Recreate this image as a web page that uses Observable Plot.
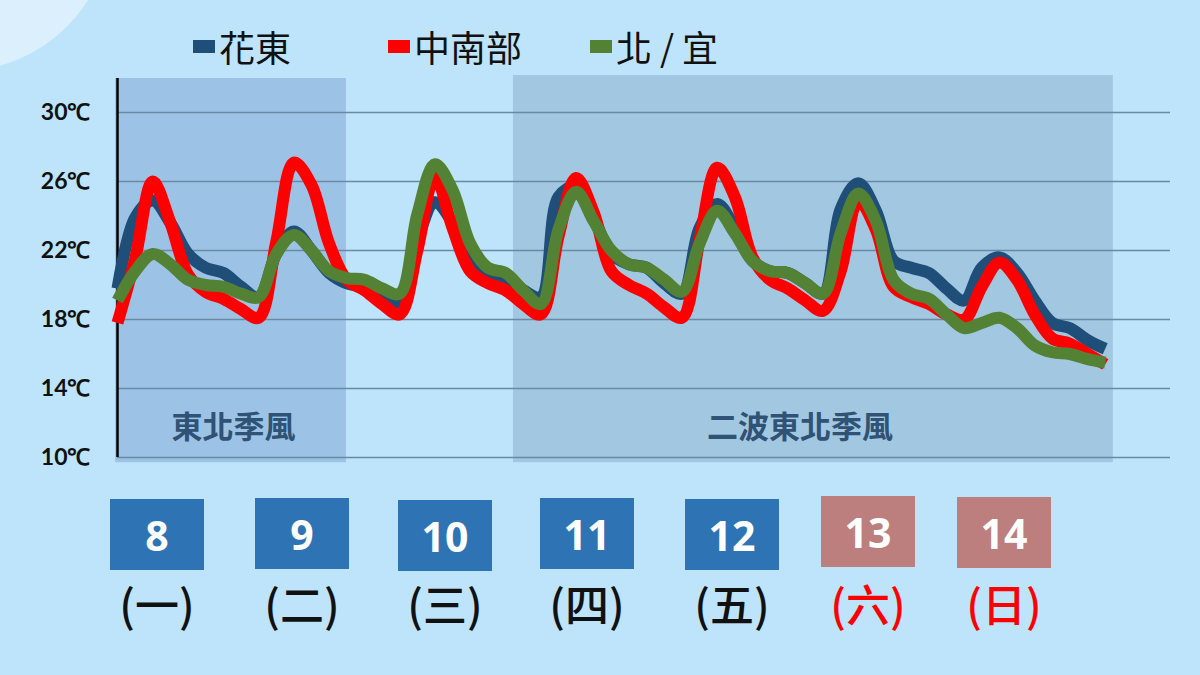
<!DOCTYPE html>
<html><head><meta charset="utf-8">
<script src="https://cdn.jsdelivr.net/npm/d3@7"></script>
<script src="https://cdn.jsdelivr.net/npm/@observablehq/plot@0.6"></script>
<style>
html,body{margin:0;padding:0;}
body{width:1200px;height:675px;overflow:hidden;background:#bde4fb;position:relative;font-family:"Noto Sans CJK TC",sans-serif;}
.corner{position:absolute;left:-191px;top:-231px;width:302px;height:302px;border-radius:50%;background:#dbeffd;}
#legend{position:relative;height:70px;}
.lg{position:absolute;top:21px;height:50px;font-size:36px;color:#111;display:flex;align-items:center;}
.sw{display:inline-block;width:22px;height:13px;margin-right:4px;}
#chart{position:relative;height:410px;}
#chart svg{overflow:visible;}
#days{position:relative;height:195px;}
.box{position:absolute;width:94px;height:71px;color:#fff;font:bold 41px "Open Sans",sans-serif;display:flex;align-items:center;justify-content:center;}
.wd{position:absolute;width:160px;text-align:center;font-size:44px;font-weight:500;line-height:50px;}
</style></head>
<body>
<div class="corner"></div>
<div id="legend"></div>
<div id="chart"></div>
<div id="days"></div>
<script>
// ---- data ----
const seriesNames = ["花東", "中南部", "北/宜"];
const steps = [0,1,2,3,4,5,6,7,8,9,10,11,12,13,14,15,16,17,18,19,20,21,22,23,24,25,26,27,28,29,30,31,32,33,34,35,36,37,38,39,40,41,42,43,44,45,46,47,48,49,50,51,52,53,54,55,56];
const hualien = [19.8,23.9,24.9,23.6,21.8,21.0,20.7,19.9,19.3,21.8,23.1,22.0,20.7,20.1,19.9,19.5,19.0,22.6,24.8,23.6,21.4,20.7,20.3,19.7,19.3,25.1,25.7,23.9,21.8,21.2,21.0,20.1,19.5,23.3,24.7,23.3,21.4,20.8,20.7,20.1,19.5,24.4,25.9,24.3,21.4,21.0,20.7,19.8,19.1,21.0,21.6,20.7,19.1,17.8,17.5,16.8,16.3];
const south   = [17.8,21.5,26.0,23.6,20.6,19.6,19.2,18.6,18.1,22.5,27.1,25.8,22.4,20.3,19.7,18.9,18.3,22.0,26.3,23.3,20.8,20.1,19.7,18.9,18.3,22.8,26.2,24.2,20.8,20.0,19.5,18.7,18.1,22.6,26.8,25.1,21.6,20.3,19.8,19.1,18.5,20.8,24.9,23.2,19.9,19.3,18.9,18.3,18.0,19.9,21.3,20.3,18.3,16.9,16.6,16.0,15.4];
const north   = [19.1,20.8,21.8,21.2,20.3,20.0,19.9,19.5,19.3,21.8,22.9,22.0,20.8,20.4,20.3,19.8,19.5,24.1,27.0,25.5,22.4,21.0,20.7,19.7,18.9,23.2,25.4,23.7,22.0,21.2,21.0,20.3,19.6,22.4,24.3,23.0,21.4,20.8,20.7,20.1,19.5,23.0,25.3,23.7,20.3,19.5,19.2,18.3,17.5,17.8,18.1,17.5,16.5,16.1,16.0,15.7,15.5];
const yTicks = [10, 14, 18, 22, 26, 30];
const regionLabels = ["東北季風", "二波東北季風"];
const regionStart = [-0.11, 22.45];
const regionEnd = [12.98, 56.46];
const regionTop = [31.97, 32.14];
const regionBottom = [9.7, 9.7];
const days = ["8", "9", "10", "11", "12", "13", "14"];
const weekdays = ["(一)", "(二)", "(三)", "(四)", "(五)", "(六)", "(日)"];
const weekend = [false, false, false, false, false, true, true];

// ---- styles / layout ----
const colors = ["#1f4e79", "#ff0000", "#548235"];
const regionFills = ["#9cc3e5", "#a2c7e1"];
const legendLeft = [193, 388, 590];
const legendSpacing = [0, 0, 8];
const boxLeft = [110, 255, 398, 540, 685, 821, 957];
const boxTop = [19, 18, 20, 18, 19, 16, 17];

// legend
const lg = document.getElementById("legend");
seriesNames.forEach((n, i) => {
  const d = document.createElement("div");
  d.className = "lg";
  d.style.left = legendLeft[i] + "px";
  d.innerHTML = `<span class="sw" style="background:${colors[i]}"></span><span style="letter-spacing:${legendSpacing[i]}px">${n}</span>`;
  lg.appendChild(d);
});

// chart
const rows = steps.map((s, i) => ({s, a: hualien[i], b: south[i], c: north[i]}));
const regions = regionLabels.map((t, i) => ({t, x1: regionStart[i], x2: regionEnd[i], y1: regionBottom[i], y2: regionTop[i]}));
const xMax = 59.7;
const lineOpts = {x: "s", strokeWidth: 12, strokeLinejoin: "round", strokeLinecap: "butt", curve: "catmull-rom"};
const chart = Plot.plot({
  width: 1200, height: 410,
  marginLeft: 117, marginRight: 30, marginTop: 42, marginBottom: 23,
  x: {domain: [0, xMax], axis: null},
  y: {domain: [10, 30], axis: null},
  style: {background: "transparent", overflow: "visible"},
  marks: [
    Plot.rect([regions[0]], {x1: "x1", x2: "x2", y1: "y1", y2: "y2", fill: regionFills[0]}),
    Plot.rect([regions[1]], {x1: "x1", x2: "x2", y1: "y1", y2: "y2", fill: regionFills[1]}),
    Plot.ruleY(yTicks, {x1: 0, x2: xMax, stroke: "#6a89a4", strokeWidth: 1.5}),
    Plot.ruleX([0], {y1: 10, y2: regionTop[0], stroke: "#000", strokeWidth: 2.5}),
    Plot.text(yTicks, {x: 0, y: d => d, text: d => d + "℃", textAnchor: "end", dx: -27, fontSize: 23, fontWeight: "bold", fontFamily: "Lato", fill: "#111"}),
    Plot.text(regions, {x: d => (d.t === regionLabels[0] ? 6.58 : 38.7), y: 11.68, text: "t", fontSize: 31, fontWeight: "bold", fontFamily: "Noto Sans CJK TC", fill: "#2f5275"}),
    Plot.line(rows, {...lineOpts, y: "a", stroke: colors[0]}),
    Plot.line(rows, {...lineOpts, y: "b", stroke: colors[1]}),
    Plot.line(rows, {...lineOpts, y: "c", stroke: colors[2]})
  ]
});
document.getElementById("chart").appendChild(chart);

// day boxes
const dd = document.getElementById("days");
days.forEach((d, i) => {
  const b = document.createElement("div");
  b.className = "box";
  b.style.left = boxLeft[i] + "px";
  b.style.top = boxTop[i] + "px";
  b.style.background = weekend[i] ? "#bd7f7d" : "#2e74b5";
  b.textContent = d;
  dd.appendChild(b);
  const w = document.createElement("div");
  w.className = "wd";
  w.style.left = (boxLeft[i] + 47 - 80) + "px";
  w.style.top = "98px";
  w.style.color = weekend[i] ? "#ff0000" : "#111";
  w.textContent = weekdays[i];
  dd.appendChild(w);
});
</script>
</body></html>
